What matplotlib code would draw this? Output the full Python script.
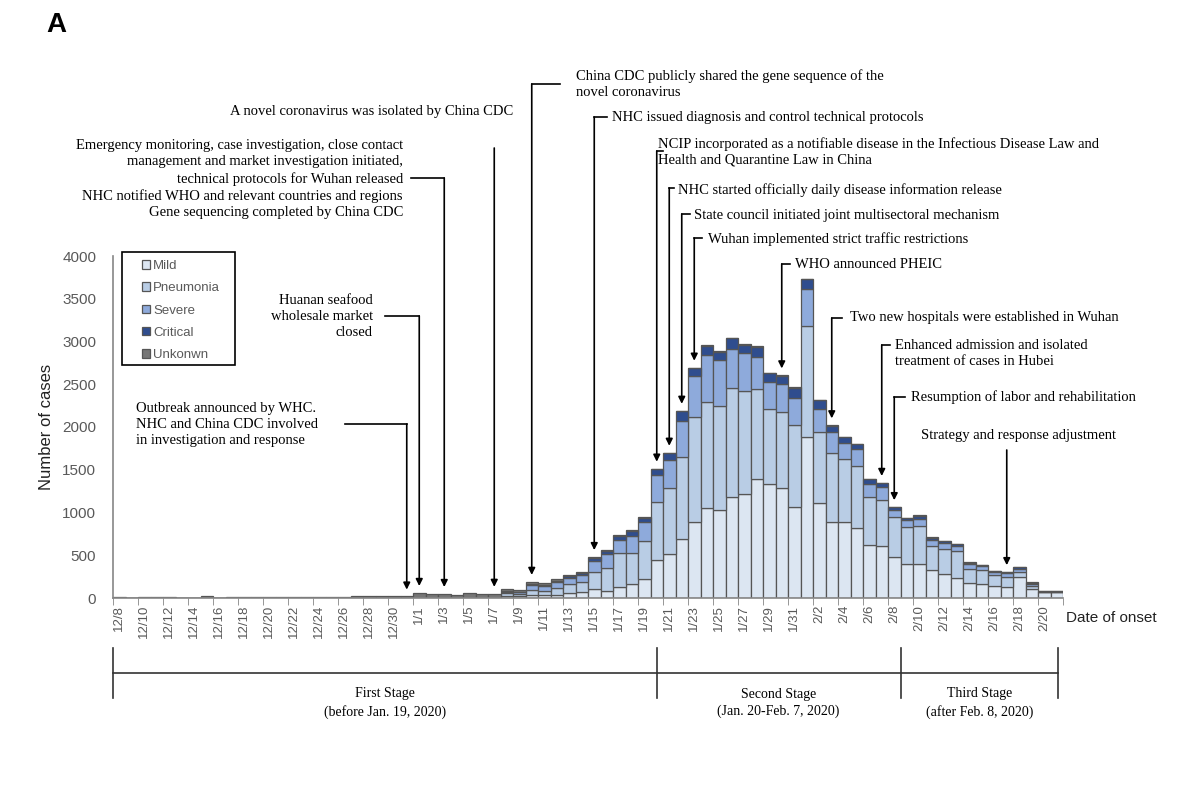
"""
Epidemic curve of cases by date of onset with key response events (panel A).
"""
import numpy as np
import pandas as pd
import matplotlib
matplotlib.use("Agg")
import matplotlib.pyplot as plt
import matplotlib.transforms as mtransforms
from matplotlib.lines import Line2D
from matplotlib.patches import Rectangle

# ---- data -----------------------------------------------------------------
dates = [f"{d.month}/{d.day}" for d in pd.date_range("2019-12-08", "2020-02-21")]

mild = [0] * 31 + [
    25, 20, 35, 32, 40, 54, 72, 105, 86, 125, 163, 226, 444, 514, 689,
    891, 1047, 1028, 1176, 1222, 1390, 1331, 1281, 1067, 1884, 1106, 884, 884, 821, 619,
    607, 475, 397, 397, 327, 280, 237, 179, 163, 144, 132, 241, 105, 70, 70]
pneumonia = [0] * 31 + [
    35, 30, 60, 55, 80, 115, 117, 200, 261, 405, 358, 444, 681, 767, 962,
    1226, 1246, 1215, 1285, 1199, 1059, 884, 895, 954, 1292, 837, 814, 747, 720, 564,
    545, 478, 428, 444, 284, 288, 315, 163, 163, 121, 117, 58, 39, 0, 0]
severe = [0] * 31 + [
    15, 18, 55, 50, 62, 70, 78, 128, 165, 148, 202, 218, 311, 331, 420,
    475, 545, 537, 455, 444, 370, 311, 331, 319, 440, 272, 245, 183, 206, 148,
    148, 80, 86, 86, 66, 70, 54, 54, 47, 35, 39, 39, 16, 0, 0]
critical = [0] * 31 + [
    5, 4, 12, 10, 15, 20, 22, 35, 38, 48, 60, 52, 70, 80, 112,
    95, 110, 98, 120, 95, 118, 102, 90, 120, 110, 98, 72, 64, 52, 60,
    42, 26, 22, 33, 26, 23, 20, 16, 13, 15, 12, 23, 19, 10, 10]
unknown = [
    10, 3, 8, 8, 8, 2, 2, 22, 3, 15, 15, 8, 15, 15, 15, 8, 15, 15, 8, 18,
    18, 18, 18, 18, 60, 48, 48, 35, 58, 50, 50,
    30, 23, 28, 24, 21, 15, 13, 12, 10, 10, 10, 10, 8, 8, 8,
    8, 8, 8, 8, 8, 8, 8, 8, 8, 8, 8, 6, 6, 6, 6,
    5, 5, 5, 5, 5, 5, 5, 4, 4, 4, 4, 4, 4, 6, 6]

series_names = ["Mild", "Pneumonia", "Severe", "Critical", "Unkonwn"]
series_colors = ["#dce6f2", "#b9cde5", "#8eaadb", "#2f4d8e", "#767676"]

# events: (onset date, text, text x px, text y px, ha, elbow y px, hook x px)
events = [
    ("12/31", "Outbreak announced by WHC.\nNHC and China CDC involved\nin investigation and response",
     136, 424, "left", 424, 345),
    ("1/1", "Huanan seafood\nwholesale market\nclosed", 373, 316, "right", 316, 385),
    ("1/3", "Emergency monitoring, case investigation, close contact\n"
            "management and market investigation initiated,\n"
            "technical protocols for Wuhan released\n"
            "NHC notified WHO and relevant countries and regions\n"
            "Gene sequencing completed by China CDC", 403, 179, "right", 178, 411),
    ("1/7", "A novel coronavirus was isolated by China CDC", 513, 111, "right", 148, None),
    ("1/10", "China CDC publicly shared the gene sequence of the\nnovel coronavirus",
     576, 84, "left", 84, 560),
    ("1/15", "NHC issued diagnosis and control technical protocols", 612, 117, "left", 117, 607),
    ("1/20", "NCIP incorporated as a notifiable disease in the Infectious Disease Law and\n"
             "Health and Quarantine Law in China", 658, 152, "left", 151, 663),
    ("1/21", "NHC started officially daily disease information release", 678, 190, "left", 188, 674),
    ("1/22", "State council initiated joint multisectoral mechanism", 694, 215, "left", 214, 690),
    ("1/23", "Wuhan implemented strict traffic restrictions", 708, 239, "left", 238, 702),
    ("1/30", "WHO announced PHEIC", 795, 264, "left", 264, 790),
    ("2/3", "Two new hospitals were established in Wuhan", 850, 318, "left", 318, 842),
    ("2/7", "Enhanced admission and isolated\ntreatment of cases in Hubei", 895, 353, "left", 345, 890),
    ("2/8", "Resumption of labor and rehabilitation", 911, 397, "left", 397, 905),
    ("2/17", "Strategy and response adjustment", 921, 435, "left", 450, None),
]

stage_labels = ["First Stage\n(before Jan. 19, 2020)",
                "Second Stage\n(Jan. 20-Feb. 7, 2020)",
                "Third Stage\n(after Feb. 8, 2020)"]
stage_edges = [-0.5, 43.0, 62.5, 75.1]

# ---- figure -----------------------------------------------------------------
W, H = 1200, 809
fig = plt.figure(figsize=(W / 100, H / 100), dpi=100)
ax = fig.add_axes([113 / W, 1 - 598 / H, 950 / W, 342 / H])

def fx(px):
    return px / W

def fy(py):
    return 1 - py / H

sans = "Liberation Sans"
serif = "Liberation Serif"
grey = "#595959"

x = np.arange(len(dates))
bottom = np.zeros(len(dates))
for name, vals, col in zip(series_names, [mild, pneumonia, severe, critical, unknown], series_colors):
    vals = np.array(vals, dtype=float)
    ax.bar(x, vals, width=1.0, bottom=bottom, color=col, edgecolor="#555555",
           linewidth=0.9, label=name)
    bottom += vals
totals = bottom

ax.set_xlim(-0.5, len(dates) - 0.5)
ax.set_ylim(0, 4000)
ax.set_yticks(np.arange(0, 4001, 500))
ax.set_xticks(x[::2])
ax.set_xticklabels(dates[::2], rotation=90, fontsize=9.5, family=sans, color=grey)
ax.set_xticks(np.arange(-0.5, len(dates), 2), minor=True)
ax.tick_params(axis="x", which="major", length=0, pad=5)
ax.tick_params(axis="x", which="minor", length=5, color="#868686")
ax.tick_params(axis="y", length=0, pad=12, labelsize=11, labelcolor=grey)
for lab in ax.get_yticklabels():
    lab.set_family(sans)
for s in ["top", "right"]:
    ax.spines[s].set_visible(False)
for s in ["left", "bottom"]:
    ax.spines[s].set_color("#868686")
    ax.spines[s].set_linewidth(1.2)

ax.set_ylabel("Number of cases", family=sans, fontsize=12, color="#222222")
ax.yaxis.set_label_coords(-0.062, 0.5)
fig.text(fx(1066), fy(618), "Date of onset", family=sans, fontsize=11,
         color="#222222", ha="left", va="center")
fig.text(fx(46), fy(25), "A", family=sans, fontsize=20, fontweight="bold",
         ha="left", va="center")

# legend: frameless entries inside a hand-sized box
fig.add_artist(Rectangle((fx(122), fy(365)), fx(235) - fx(122), fy(252) - fy(365),
                         transform=fig.transFigure, fill=False, edgecolor="black", lw=1.2))
leg = fig.legend(*ax.get_legend_handles_labels(), loc="upper left",
                 bbox_to_anchor=(fx(142), fy(260)), borderaxespad=0, borderpad=0,
                 frameon=False, handlelength=0.6, handleheight=0.6,
                 handletextpad=0.25, labelspacing=0.78,
                 prop={"family": sans, "size": 9.5})
for t in leg.get_texts():
    t.set_color(grey)

# ---- event annotations ------------------------------------------------------
to_fig = ax.transData + fig.transFigure.inverted()
gap = 80
for date, text, tx, ty, ha, ey, hook in events:
    i = dates.index(date)
    fig.text(fx(tx), fy(ty), text, family=serif, fontsize=10.5, ha=ha, va="center",
             multialignment=ha, linespacing=1.3)
    bx = to_fig.transform((i, 0))[0]
    if hook is not None:
        fig.add_artist(Line2D([fx(hook), bx], [fy(ey), fy(ey)], color="black", lw=1.2))
    ax.annotate("", xy=(i, totals[i] + gap), xycoords="data",
                xytext=(i, fy(ey)), textcoords=("data", "figure fraction"),
                arrowprops=dict(arrowstyle="-|>", color="black", lw=1.2,
                                shrinkA=0, shrinkB=0, mutation_scale=10),
                annotation_clip=False)

# ---- stage bracket ------------------------------------------------------
bt = mtransforms.blended_transform_factory(ax.transData, fig.transFigure)
ax.plot([stage_edges[0], stage_edges[-1]], [fy(673), fy(673)], transform=bt,
        color="#333333", lw=1.2, clip_on=False)
for e in stage_edges:
    ax.plot([e, e], [fy(648), fy(698)], transform=bt, color="#333333", lw=1.2, clip_on=False)
for lab, a, b in zip(stage_labels, stage_edges[:-1], stage_edges[1:]):
    ax.text((a + b) / 2, fy(703), lab, transform=bt, family=serif, fontsize=10,
            ha="center", va="center", linespacing=1.4)

fig.savefig("out.png", dpi=100)
